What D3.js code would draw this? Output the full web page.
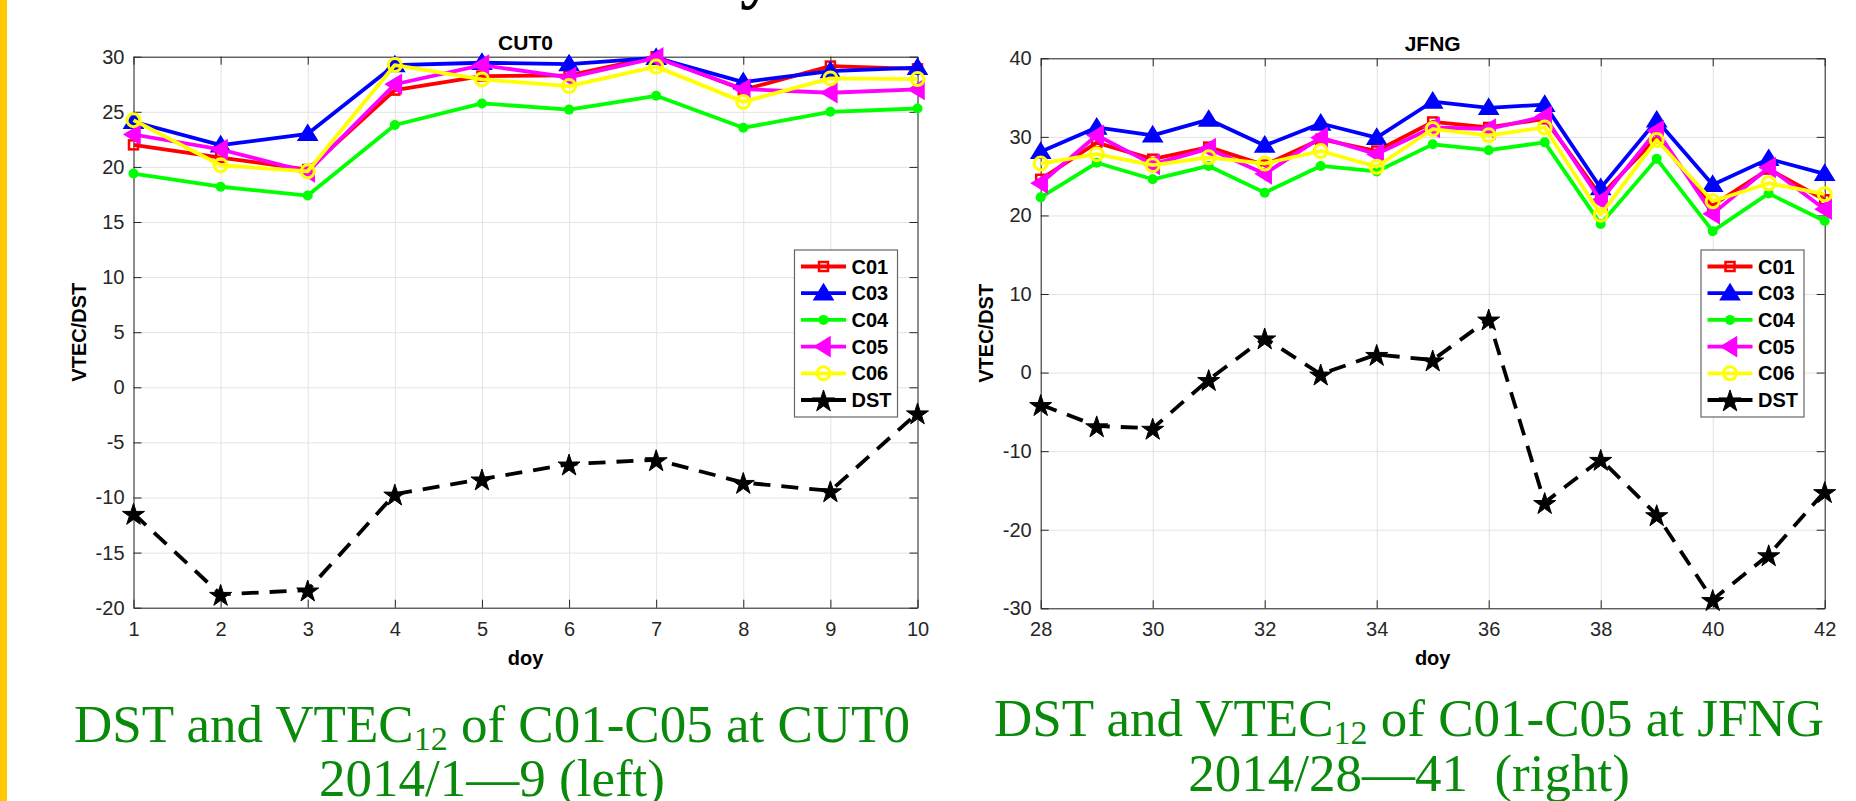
<!DOCTYPE html>
<html><head><meta charset="utf-8">
<script src="https://cdn.jsdelivr.net/npm/d3@7"></script>
<style>
body{margin:0;background:#fff;}
svg{display:block;}
</style></head>
<body>
<svg id="chart" width="1856" height="801"></svg>
<script>
// ---------- DATA ----------
const seriesNames = ["C01","C03","C04","C05","C06","DST"];

const cutDays = [1,2,3,4,5,6,7,8,9,10];
const cutC01 = [22.0,20.85,19.76,26.97,28.24,28.3,30.0,27.0,29.15,28.9];
const cutC03 = [24.1,21.97,23.0,29.24,29.45,29.33,29.9,27.7,28.7,29.0];
const cutC04 = [19.4,18.2,17.4,23.8,25.76,25.2,26.45,23.55,25.0,25.3];
const cutC05 = [22.94,21.58,19.55,27.5,29.24,28.12,29.9,27.06,26.73,27.03];
const cutC06 = [24.24,20.15,19.6,29.24,27.94,27.33,29.1,25.9,28.03,27.97];
const cutDST = [-11.45,-18.8,-18.4,-9.7,-8.33,-6.97,-6.58,-8.64,-9.4,-2.33];
const cutXTicks = [1,2,3,4,5,6,7,8,9,10];
const cutYTicks = [-20,-15,-10,-5,0,5,10,15,20,25,30];

const jfngDays = [28,29,30,31,32,33,34,35,36,37,38,39,40,41,42];
const jfngC01 = [24.6,29.26,27.16,28.7,26.4,29.7,28.2,31.9,31.2,32.3,22.5,29.9,21.3,25.9,22.0];
const jfngC03 = [28.1,31.2,30.2,32.2,28.9,31.7,29.9,34.5,33.7,34.1,23.5,32.1,23.9,27.2,25.3];
const jfngC04 = [22.3,26.7,24.6,26.3,22.9,26.3,25.6,29.05,28.3,29.3,18.9,27.2,18.0,22.8,19.3];
const jfngC05 = [24.1,30.2,26.5,28.5,25.3,29.9,27.8,31.2,31.0,32.6,21.9,30.8,20.2,26.1,20.8];
const jfngC06 = [26.6,27.8,26.4,27.4,26.6,28.2,26.2,31.0,30.2,31.2,20.1,29.6,21.8,24.1,22.7];
const jfngDST = [-4.08,-6.79,-7.1,-0.9,4.4,-0.2,2.3,1.6,6.8,-16.55,-11.06,-18.1,-28.9,-23.2,-15.16];
const jfngXTicks = [28,30,32,34,36,38,40,42];
const jfngYTicks = [-30,-20,-10,0,10,20,30,40];

// ---------- STYLE ----------
const styles = {
  C01:{color:"#ff0000", marker:"square", dash:null},
  C03:{color:"#0000ff", marker:"triUp", dash:null},
  C04:{color:"#00ff00", marker:"dot", dash:null},
  C05:{color:"#ff00ff", marker:"triLeft", dash:null},
  C06:{color:"#ffff00", marker:"ring", dash:null},
  DST:{color:"#000000", marker:"star", dash:"17,11"}
};
const axisColor = "#262626";
const gridColor = "#e3e3e3";
const sansFont = "'Liberation Sans', Arial, Helvetica, sans-serif";
const serifFont = "'Liberation Serif', 'Times New Roman', serif";

const svg = d3.select("#chart");

// left yellow strip
svg.append("rect").attr("x",0).attr("y",0).attr("width",7).attr("height",801).attr("fill","#ffc800");
// cut-off glyph of the slide title at top
svg.append("text").attr("x",740).attr("y",-5).attr("font-family",serifFont)
  .attr("font-weight","bold").attr("font-size",70).attr("fill","#000").text("y");

function drawMarker(g, type, color){
  if(type==="square"){
    g.append("rect").attr("x",-4.5).attr("y",-4.5).attr("width",9).attr("height",9)
      .attr("fill","none").attr("stroke",color).attr("stroke-width",2.5);
  } else if(type==="triUp"){
    g.append("path").attr("d","M0,-9L9.5,6.5L-9.5,6.5Z").attr("fill",color).attr("stroke",color).attr("stroke-width",1.5);
  } else if(type==="triLeft"){
    g.append("path").attr("d","M-9,0L6.5,-9.5L6.5,9.5Z").attr("fill",color).attr("stroke",color).attr("stroke-width",1.5);
  } else if(type==="dot"){
    g.append("circle").attr("r",5).attr("fill",color);
  } else if(type==="ring"){
    g.append("circle").attr("r",6.5).attr("fill","none").attr("stroke",color).attr("stroke-width",3);
  } else if(type==="star"){
    g.append("path").attr("d",d3.symbol(d3.symbolStar,150)()).attr("transform","translate(0,1.5)")
      .attr("fill",color).attr("stroke",color).attr("stroke-width",1);
  }
}

function drawPanel(cfg){
  const x = d3.scaleLinear().domain(cfg.xDomain).range([cfg.left,cfg.right]);
  const y = d3.scaleLinear().domain(cfg.yDomain).range([cfg.bottom,cfg.top]);
  const W = cfg.right-cfg.left, H = cfg.bottom-cfg.top;
  const g = svg.append("g");
  const fmt = d=>String(d);

  // grid
  g.append("g").attr("transform",`translate(0,${cfg.bottom})`)
    .call(d3.axisBottom(x).tickValues(cfg.xTicks).tickSize(-H).tickFormat(""))
    .call(a=>{a.select(".domain").remove(); a.selectAll("text").remove(); a.selectAll("line").attr("stroke",gridColor);});
  g.append("g").attr("transform",`translate(${cfg.left},0)`)
    .call(d3.axisLeft(y).tickValues(cfg.yTicks).tickSize(-W).tickFormat(""))
    .call(a=>{a.select(".domain").remove(); a.selectAll("text").remove(); a.selectAll("line").attr("stroke",gridColor);});

  // axes with inward ticks
  const tk = 8;
  const styleAxis = a=>{
    a.select(".domain").attr("stroke",axisColor);
    a.selectAll(".tick line").attr("stroke",axisColor);
    a.selectAll("text").attr("font-family",sansFont).attr("font-size",20).attr("fill",axisColor);
  };
  const noText = a=>a.selectAll("text").remove();
  g.append("g").attr("transform",`translate(0,${cfg.bottom})`)
    .call(d3.axisBottom(x).tickValues(cfg.xTicks).tickSizeInner(-tk).tickSizeOuter(0).tickPadding(14).tickFormat(fmt))
    .call(styleAxis);
  g.append("g").attr("transform",`translate(0,${cfg.top})`)
    .call(d3.axisTop(x).tickValues(cfg.xTicks).tickSizeInner(-tk).tickSizeOuter(0).tickFormat(""))
    .call(styleAxis).call(noText);
  g.append("g").attr("transform",`translate(${cfg.left},0)`)
    .call(d3.axisLeft(y).tickValues(cfg.yTicks).tickSizeInner(-tk).tickSizeOuter(0).tickPadding(9).tickFormat(fmt))
    .call(styleAxis);
  g.append("g").attr("transform",`translate(${cfg.right},0)`)
    .call(d3.axisRight(y).tickValues(cfg.yTicks).tickSizeInner(-tk).tickSizeOuter(0).tickFormat(""))
    .call(styleAxis).call(noText);

  // series
  const line = d3.line().x(d=>x(d[0])).y(d=>y(d[1]));
  cfg.series.forEach((vals,i)=>{
    const name = seriesNames[i];
    const st = styles[name];
    const pts = cfg.days.map((d,j)=>[d,vals[j]]);
    g.append("path").datum(pts).attr("d",line).attr("fill","none")
      .attr("stroke",st.color).attr("stroke-width",3.8)
      .attr("stroke-linejoin","round")
      .attr("stroke-dasharray",st.dash);
    pts.forEach(p=>{
      const m = g.append("g").attr("transform",`translate(${x(p[0])},${y(p[1])})`);
      drawMarker(m, st.marker, st.color);
    });
  });

  // title
  g.append("text").attr("x",(cfg.left+cfg.right)/2).attr("y",cfg.top-7)
    .attr("text-anchor","middle").attr("font-family",sansFont).attr("font-weight","bold")
    .attr("font-size",21).attr("fill","#000").text(cfg.title);
  // x label
  g.append("text").attr("x",(cfg.left+cfg.right)/2).attr("y",665)
    .attr("text-anchor","middle").attr("font-family",sansFont).attr("font-weight","bold")
    .attr("font-size",20).attr("fill","#000").text("doy");
  // y label
  g.append("text").attr("transform",`translate(${cfg.ylabX},${(cfg.top+cfg.bottom)/2}) rotate(-90)`)
    .attr("text-anchor","middle").attr("font-family",sansFont).attr("font-weight","bold")
    .attr("font-size",20).attr("fill","#000").text("VTEC/DST");

  // legend
  const lg = g.append("g").attr("transform",`translate(${cfg.legX},${cfg.legY})`);
  lg.append("rect").attr("x",0).attr("y",0).attr("width",103).attr("height",167)
    .attr("fill","#fff").attr("stroke","#666").attr("stroke-width",1.2);
  seriesNames.forEach((name,i)=>{
    const st = styles[name];
    const ry = 16.5 + i*26.7;
    lg.append("line").attr("x1",6.5).attr("x2",51.5).attr("y1",ry).attr("y2",ry)
      .attr("stroke",st.color).attr("stroke-width",3.8)
      .attr("stroke-dasharray", name==="DST" ? "16,13" : null);
    const m = lg.append("g").attr("transform",`translate(29,${ry})`);
    drawMarker(m, st.marker, st.color);
    lg.append("text").attr("x",57).attr("y",ry+7).attr("font-family",sansFont)
      .attr("font-weight","bold").attr("font-size",20).attr("fill","#000").text(name);
  });
}

drawPanel({
  title:"CUT0", left:133.5, right:917.5, top:56.7, bottom:607.7,
  xDomain:[1,10], yDomain:[-20,30], xTicks:cutXTicks, yTicks:cutYTicks,
  days:cutDays, series:[cutC01,cutC03,cutC04,cutC05,cutC06,cutDST],
  ylabX:86, legX:794.5, legY:250
});
drawPanel({
  title:"JFNG", left:1040.7, right:1824.7, top:58.3, bottom:608.3,
  xDomain:[28,42], yDomain:[-30,40], xTicks:jfngXTicks, yTicks:jfngYTicks,
  days:jfngDays, series:[jfngC01,jfngC03,jfngC04,jfngC05,jfngC06,jfngDST],
  ylabX:993, legX:1701, legY:250
});

// captions
function caption(cx, y1, y2, station, line2){
  const t = svg.append("text").attr("x",cx).attr("y",y1).attr("text-anchor","middle")
    .attr("font-family",serifFont).attr("font-size",53).attr("fill","#0a8a0a");
  t.append("tspan").text("DST and VTEC");
  t.append("tspan").attr("font-size",34).attr("dy",8).text("12");
  t.append("tspan").attr("dy",-8).text(" of C01-C05 at " + station);
  svg.append("text").attr("x",cx).attr("y",y2).attr("text-anchor","middle")
    .attr("font-family",serifFont).attr("font-size",53).attr("fill","#0a8a0a")
    .style("white-space","pre").text(line2);
}
caption(492, 742, 796, "CUT0", "2014/1\u20149 (left)");
caption(1409, 736, 791, "JFNG", "2014/28\u201441  (right)");
</script>
</body></html>
